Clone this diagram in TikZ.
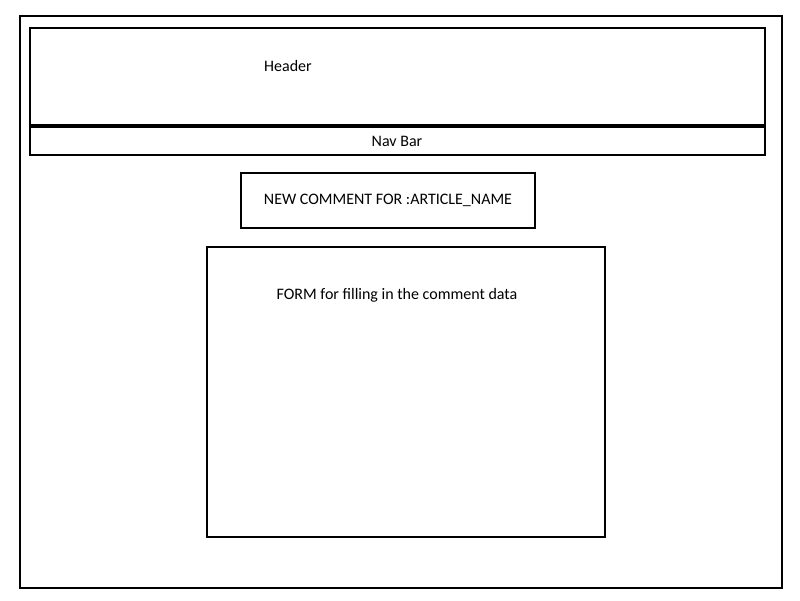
\documentclass[tikz,border=0pt]{standalone}
\usepackage{fontspec}
\setmainfont{Carlito}
\usetikzlibrary{positioning}

\begin{document}
\begin{tikzpicture}[
    x=1pt, y=-1pt,
    frame/.style={rectangle, draw=black, line width=2pt, inner sep=0pt},
    lbl/.style={font=\fontsize{16}{19}\selectfont, inner sep=0pt}
]
    \useasboundingbox (0,0) rectangle (800,600);
    \node [frame, minimum width=762.5pt, minimum height=572pt] (page) at (400.75,301.5) {};
    \node [frame, minimum width=735.5pt, minimum height=97pt] (header) at (397.25,76.5) {};
    \node [frame, minimum width=735.5pt, minimum height=29.5pt] (nav) at (397.25,139.75) {};
    \draw [line width=4pt] (header.south west) -- (header.south east);
    \node [frame, minimum width=294pt, minimum height=54.5pt] (title) at (388,200.5) {};
    \node [frame, minimum width=398.5pt, minimum height=290.5pt] (form) at (406,392) {};

    \node [lbl] (headertxt) at (288,66.5) {Header};
    \node [lbl] (navtxt) at (397,141) {Nav Bar};
    \node [lbl] (titletxt) at (title.center) {NEW COMMENT FOR :ARTICLE\_NAME};
    \node [lbl] (formtxt) at (397,295) {FORM for filling in the comment data};
\end{tikzpicture}
\end{document}
